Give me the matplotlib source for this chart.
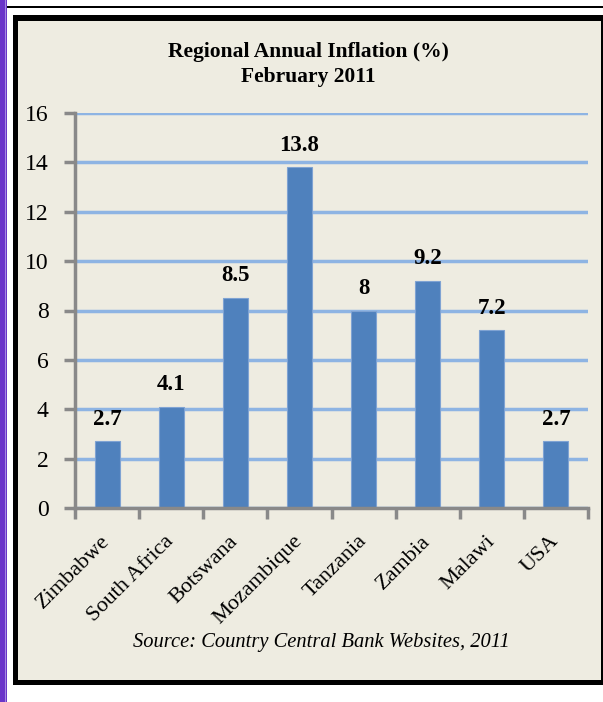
import matplotlib
matplotlib.use("Agg")
import matplotlib.pyplot as plt
from matplotlib.patches import Rectangle

countries = ["Zimbabwe", "South Africa", "Botswana", "Mozambique",
             "Tanzania", "Zambia", "Malawi", "USA"]
inflation = [2.7, 4.1, 8.5, 13.8, 8, 9.2, 7.2, 2.7]
value_labels = ["2.7", "4.1", "8.5", "13.8", "8", "9.2", "7.2", "2.7"]
y_ticks = [0, 2, 4, 6, 8, 10, 12, 14, 16]

plt.rcParams['font.family'] = ['Liberation Serif', 'DejaVu Serif']

W, H = 603, 702
fig = plt.figure(figsize=(W / 100, H / 100), dpi=100)
fig.patch.set_facecolor('white')


def frect(x0, y0, x1, y1, color, z=-10):
    # pixel coords from top-left
    fig.patches.append(Rectangle((x0 / W, 1 - y1 / H), (x1 - x0) / W, (y1 - y0) / H,
                                 transform=fig.transFigure, facecolor=color,
                                 edgecolor='none', zorder=z))


frect(0, 0, 7, H, '#6A35C9')
frect(5, 0, 6, H, '#A58BE0', -9)
frect(7, 6, W, 8, 'black')
frect(13, 15, W, 685, 'black')
frect(18, 21, 601, 680, '#EEECE1', -9)

ax = fig.add_axes([75 / W, 1 - 508 / H, (588 - 75) / W, (508 - 113) / H])
ax.set_zorder(1)
ax.patch.set_visible(False)

x = list(range(len(countries)))
ax.bar(x, inflation, width=0.39, color='#4F81BD', edgecolor='#7FA3D3',
       linewidth=0.8, zorder=3)
for xi, v, lab in zip(x, inflation, value_labels):
    ax.annotate(lab, (xi, v), xytext=(0, 12), textcoords='offset points',
                ha='center', va='baseline', fontsize=16.5, fontweight='bold',
                zorder=4)

ax.set_xlim(-0.5, 7.5)
ax.set_ylim(0, 16)
ax.set_yticks(y_ticks)
ax.set_yticklabels([str(t) for t in y_ticks])
ax.yaxis.grid(True, color='#8EB4E3', linewidth=2.5, zorder=0)
ax.set_axisbelow(True)

ax.set_xticks(x)
ax.set_xticklabels(countries, rotation=45, ha='right', va='center',
                   rotation_mode='anchor', fontsize=16)
ax.set_xticks([i - 0.5 for i in range(len(countries) + 1)], minor=True)
ax.tick_params(axis='x', which='major', length=0, pad=22)
ax.tick_params(axis='x', which='minor', length=8, width=2.5, color='#898989')
ax.tick_params(axis='y', length=8, width=2.5, color='#898989', pad=11,
               labelsize=17)

for s in ['top', 'right']:
    ax.spines[s].set_visible(False)
for s in ['left', 'bottom']:
    ax.spines[s].set_color('#898989')
    ax.spines[s].set_linewidth(2.5)
    ax.spines[s].set_zorder(5)

fig.text(308 / W, 1 - 52 / H, "Regional Annual Inflation (%)", ha='center',
         va='center', fontsize=15.5, fontweight='bold')
fig.text(308 / W, 1 - 77 / H, "February 2011", ha='center', va='center',
         fontsize=15.5, fontweight='bold')
fig.text(321 / W, 1 - 642 / H, "Source: Country Central Bank Websites, 2011",
         ha='center', va='center', fontsize=14.8, style='italic')

fig.savefig('out.png', dpi=100, facecolor='white')
